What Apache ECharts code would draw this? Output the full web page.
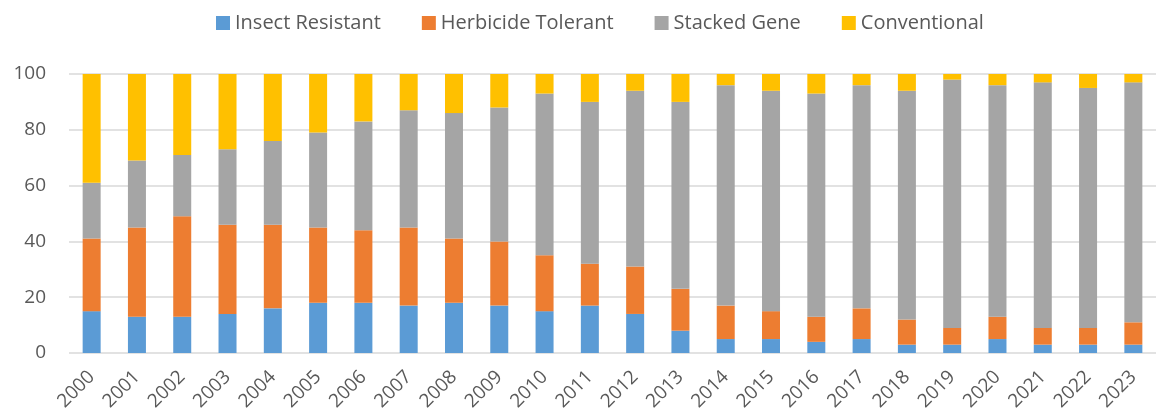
<!DOCTYPE html>
<html>
<head>
<meta charset="utf-8">
<script src="https://cdn.jsdelivr.net/npm/echarts@6/dist/echarts.min.js"></script>
<style>
  html, body { margin: 0; padding: 0; background: #fff; }
  #chart { width: 1156px; height: 417px; }
</style>
</head>
<body>
<div id="chart"></div>
<script>
var years = ['2000', '2001', '2002', '2003', '2004', '2005', '2006', '2007', '2008', '2009', '2010', '2011',
  '2012', '2013', '2014', '2015', '2016', '2017', '2018', '2019', '2020', '2021', '2022', '2023'];
var insectResistant = [15, 13, 13, 14, 16, 18, 18, 17, 18, 17, 15, 17, 14, 8, 5, 5, 4, 5, 3, 3, 5, 3, 3, 3];
var herbicideTolerant = [26, 32, 36, 32, 30, 27, 26, 28, 23, 23, 20, 15, 17, 15, 12, 10, 9, 11, 9, 6, 8, 6, 6, 8];
var stackedGene = [20, 24, 22, 27, 30, 34, 39, 42, 45, 48, 58, 58, 63, 67, 79, 79, 80, 80, 82, 89, 83, 88, 86, 86];
var conventional = [39, 31, 29, 27, 24, 21, 17, 13, 14, 12, 7, 10, 6, 10, 4, 6, 7, 4, 6, 2, 4, 3, 5, 3];
var yTicks = [0, 20, 40, 60, 80, 100];

var chart = echarts.init(document.getElementById('chart'));
var font = 'Open Sans, sans-serif';

function bar(name, data, color) {
  return {
    name: name,
    type: 'bar',
    stack: 'total',
    barWidth: 18,
    data: data,
    itemStyle: { color: color },
    emphasis: { disabled: true }
  };
}

var option = {
  animation: false,
  textStyle: { fontFamily: font },
  legend: {
    top: 8,
    left: 211,
    itemWidth: 14,
    itemHeight: 14,
    itemGap: 41,
    icon: 'rect',
    textStyle: { fontSize: 20, color: '#595959', fontFamily: font }
  },
  grid: { left: 69, right: -12, top: 74, bottom: 64 },
  xAxis: {
    type: 'category',
    data: years,
    axisLine: { show: false },
    axisTick: { show: false },
    axisLabel: { rotate: 45, fontSize: 19, color: '#595959', margin: 21, interval: 0 }
  },
  yAxis: {
    type: 'value',
    min: yTicks[0],
    max: yTicks[yTicks.length - 1],
    interval: 20,
    axisLine: { show: false },
    axisTick: { show: false },
    axisLabel: { fontSize: 19, color: '#595959', margin: 23 },
    splitLine: { lineStyle: { color: '#d9d9d9', width: 1.5 } }
  },
  series: [
    bar('Insect Resistant', insectResistant, '#5b9bd5'),
    bar('Herbicide Tolerant', herbicideTolerant, '#ed7d31'),
    bar('Stacked Gene', stackedGene, '#a5a5a5'),
    bar('Conventional', conventional, '#ffc000')
  ]
};

chart.setOption(option);
</script>
</body>
</html>
